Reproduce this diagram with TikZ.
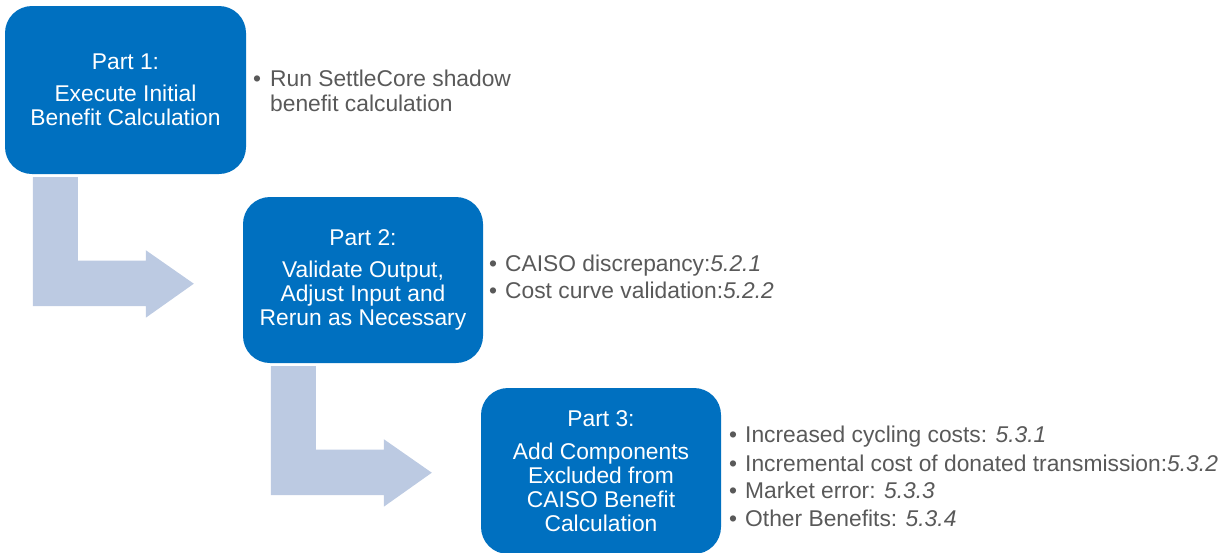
\documentclass[tikz,border=0pt]{standalone}
\usepackage{fontspec}
\setmainfont{Liberation Sans}
\definecolor{boxblue}{HTML}{0070C0}
\definecolor{arrowgrey}{HTML}{BCCAE2}
\definecolor{bodygrey}{HTML}{595959}
\begin{document}
\begin{tikzpicture}[x=1pt,y=-1pt,
  stepbox/.style={fill=boxblue, rounded corners=27pt, minimum width=240pt,
    minimum height=166pt, inner sep=0pt, text=white, align=center,
    font=\fontsize{22.8}{24}\selectfont},
  note/.style={anchor=base west, inner sep=0pt, text=bodygrey,
    font=\fontsize{22.8}{24}\selectfont},
  bendarrow/.style={fill=arrowgrey}]
\useasboundingbox (0,0) rectangle (1231,552);

% the three steps
\node[stepbox, minimum width=241pt, minimum height=168pt] (b1) at (125.5,90)
  {Part 1:\\[8pt]Execute Initial\\Benefit Calculation};
\node[stepbox] (b2) at (363,280)
  {Part 2:\\[8pt]Validate Output,\\Adjust Input and\\Rerun as Necessary};
\node[stepbox] (b3) at (601,471)
  {Part 3:\\[9pt]Add Components\\Excluded from\\CAISO Benefit\\Calculation};

% bent arrows leading from one step down to the next
\foreach \src in {b1,b2}
  \fill[bendarrow, shift={(\src.south west)}]
    (28,3) -- (73,3) -- (73,86.5) -- (141,86.5) -- (141,76) -- (189,109.5)
    -- (141,143.5) -- (141,132) -- (28,132) -- cycle;

% notes for step 1
\node[note] (d11) at (253,86) {\textbullet};
\node[note] (t11) at (270,86) {Run SettleCore shadow};
\node[note] (t12) at (270,111) {benefit calculation};

% notes for step 2
\node[note] (d21) at (489,271) {\textbullet};
\node[note] (t21) at (505,271) {CAISO discrepancy:\textit{5.2.1}};
\node[note] (d22) at (489,298) {\textbullet};
\node[note] (t22) at (505,298) {Cost curve validation:\textit{5.2.2}};

% notes for step 3
\node[note] (d31) at (729,442) {\textbullet};
\node[note] (t31) at (745,442) {Increased cycling costs: \textit{5.3.1}};
\node[note] (d32) at (729,471) {\textbullet};
\node[note] (t32) at (745,471) {Incremental cost of donated transmission:\textit{5.3.2}};
\node[note] (d33) at (729,498) {\textbullet};
\node[note] (t33) at (745,498) {Market error: \textit{5.3.3}};
\node[note] (d34) at (729,526) {\textbullet};
\node[note] (t34) at (745,526) {Other Benefits: \textit{5.3.4}};
\end{tikzpicture}
\end{document}
